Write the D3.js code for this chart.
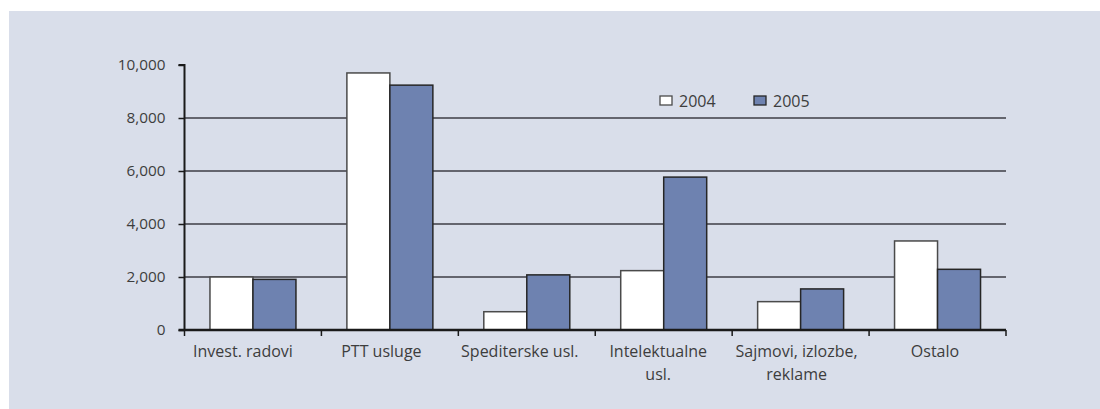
<!DOCTYPE html>
<html><head><meta charset="utf-8">
<script src="https://cdn.jsdelivr.net/npm/d3@7"></script>
<style>body{margin:0;background:#fff}svg{display:block}</style>
</head><body>
<svg id="c" width="1100" height="409"></svg>
<script>
const categories = [["Invest. radovi"], ["PTT usluge"], ["Spediterske usl."], ["Intelektualne", "usl."], ["Sajmovi, izlozbe,", "reklame"], ["Ostalo"]];
const seriesNames = ["2004", "2005"];
const values2004 = [2000, 9700, 690, 2240, 1070, 3360];
const values2005 = [1910, 9240, 2080, 5770, 1550, 2290];
const yTicks = [0, 2000, 4000, 6000, 8000, 10000];

(function () {
const svg = d3.select("#c");
const font = "'Open Sans', 'DejaVu Sans', sans-serif";
svg.append("rect").attr("x", 9).attr("y", 11).attr("width", 1091).attr("height", 398).attr("fill", "#d9deea");

const pLeft = 184.5, pRight = 1006, pTop = 65, pBottom = 330;
const keys = categories.map(c => c.join(" "));
const x0 = d3.scaleBand().domain(keys).range([pLeft, pRight]).paddingInner(0.372).paddingOuter(0.186);
const x1 = d3.scaleBand().domain(seriesNames).range([0, x0.bandwidth()]);
const xl = d3.scalePoint().domain(keys).range([243, 935]);
const y = d3.scaleLinear().domain([0, 10000]).range([pBottom, pTop]);
const fills = {"2004": "#ffffff", "2005": "#6e82b0"};
const strokes = {"2004": "#4a4a4a", "2005": "#262626"};
const txt = "#3d3d3d";

// gridlines
svg.append("g").selectAll("line").data(yTicks.filter(t => t > 0 && t < 10000)).join("line")
  .attr("x1", pLeft).attr("x2", pRight).attr("y1", d => y(d)).attr("y2", d => y(d))
  .attr("stroke", "#3c3c44").attr("stroke-width", 1.3);

// bars
const data = keys.map((k, i) => ({k, vals: [{s: "2004", v: values2004[i]}, {s: "2005", v: values2005[i]}]}));
const g = svg.append("g");
data.forEach(d => {
  d.vals.forEach(b => {
    g.append("rect")
      .attr("x", x0(d.k) + x1(b.s)).attr("y", y(b.v))
      .attr("width", x1.bandwidth()).attr("height", y(0) - y(b.v))
      .attr("fill", fills[b.s]).attr("stroke", strokes[b.s]).attr("stroke-width", 1.5);
  });
});

// y axis
const yAxis = d3.axisLeft(y).tickValues(yTicks).tickSize(6).tickFormat(d3.format(","));
const ya = svg.append("g").attr("transform", `translate(${pLeft},0)`).call(yAxis);
ya.select(".domain").attr("stroke", "#1a1a1a").attr("stroke-width", 2).attr("d", `M-6,${pTop}H0V${pBottom}`);
ya.selectAll(".tick line").attr("stroke", "#1a1a1a").attr("stroke-width", 1.5);
ya.selectAll(".tick text").attr("x", -19).attr("font-family", font).attr("font-size", 15.3).attr("fill", txt);

// x axis
const xa = svg.append("g").attr("transform", `translate(0,${pBottom})`);
xa.append("line").attr("x1", pLeft - 6).attr("x2", pRight).attr("y1", 0).attr("y2", 0).attr("stroke", "#1a1a1a").attr("stroke-width", 2.5);
const bounds = keys.map(k => x0(k) - x0.step() * x0.paddingInner() / 2);
bounds.push(pRight);
xa.selectAll(".xt").data(bounds).join("line").attr("class", "xt")
  .attr("x1", d => d).attr("x2", d => d).attr("y1", 0).attr("y2", 6).attr("stroke", "#1a1a1a").attr("stroke-width", 1.5);
categories.forEach((c, i) => {
  const cx = xl(keys[i]);
  const t = xa.append("text").attr("x", cx).attr("y", 27)
    .attr("text-anchor", "middle").attr("font-family", font).attr("font-size", 16).attr("fill", txt);
  c.forEach((line, j) => t.append("tspan").attr("x", cx).attr("dy", j === 0 ? 0 : 23).text(line));
});

// legend
const lg = svg.append("g");
const legX = [660, 754];
seriesNames.forEach((s, i) => {
  lg.append("rect").attr("x", legX[i]).attr("y", 96).attr("width", 12).attr("height", 9)
    .attr("fill", fills[s]).attr("stroke", strokes[s]).attr("stroke-width", 1.3);
  lg.append("text").attr("x", legX[i] + 19).attr("y", 106.5).attr("font-family", font)
    .attr("font-size", 16).attr("fill", txt).text(s);
});
})();
</script>
</body></html>
